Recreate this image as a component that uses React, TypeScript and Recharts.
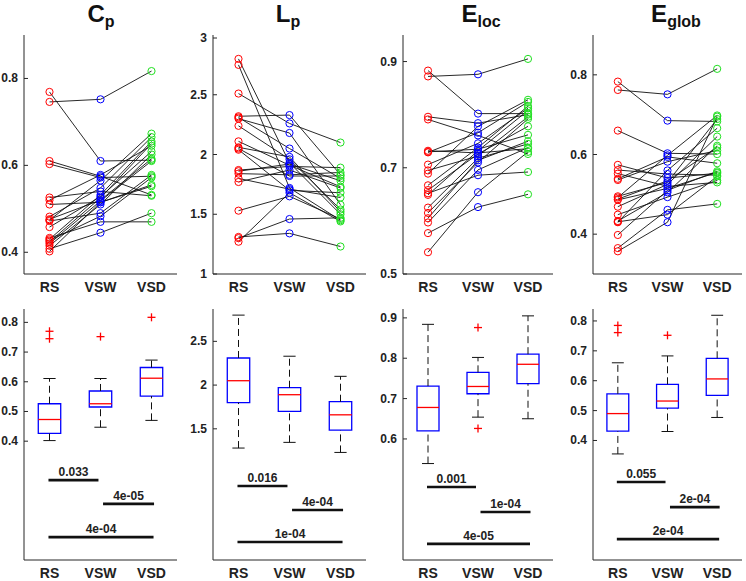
import React from "react"
import {
  ComposedChart,
  Line,
  ReferenceArea,
  ReferenceLine,
  Scatter,
  XAxis,
  YAxis,
} from "recharts"

// conditions on the x axis
const conditions = ["RS", "VSW", "VSD"]
const conditionColors = ["#ff0000", "#0000ff", "#20e020"]

// per-subject values (top row), index = subject
const cpRS = [0.769, 0.746, 0.610, 0.603, 0.526, 0.520, 0.510, 0.482, 0.476, 0.474, 0.472, 0.458, 0.433, 0.430, 0.427, 0.424, 0.420, 0.415, 0.408, 0.402]
const cpVSW = [0.610, 0.752, 0.575, 0.572, 0.540, 0.578, 0.515, 0.548, 0.520, 0.565, 0.490, 0.528, 0.470, 0.532, 0.483, 0.525, 0.518, 0.510, 0.445, 0.515]
const cpVSD = [0.612, 0.817, 0.532, 0.575, 0.530, 0.645, 0.552, 0.665, 0.615, 0.673, 0.578, 0.632, 0.470, 0.655, 0.572, 0.650, 0.610, 0.625, 0.490, 0.555]

const lpRS = [2.80, 2.75, 2.51, 2.32, 2.31, 2.30, 2.24, 2.11, 2.06, 2.05, 2.04, 1.87, 1.86, 1.84, 1.80, 1.77, 1.53, 1.31, 1.30, 1.27]
const lpVSW = [1.93, 1.72, 2.26, 2.33, 2.05, 2.18, 1.96, 1.91, 1.98, 1.82, 1.70, 1.90, 1.92, 1.83, 1.71, 1.87, 1.65, 1.34, 1.46, 1.68]
const lpVSD = [1.50, 1.45, 2.10, 1.83, 1.80, 1.58, 1.54, 1.73, 1.52, 1.82, 1.68, 1.89, 1.78, 1.85, 1.64, 1.72, 1.46, 1.23, 1.47, 1.44]

const elocRS = [0.872, 0.883, 0.796, 0.791, 0.732, 0.730, 0.729, 0.706, 0.695, 0.689, 0.667, 0.658, 0.652, 0.649, 0.625, 0.615, 0.605, 0.597, 0.577, 0.541]
const elocVSW = [0.876, 0.802, 0.784, 0.761, 0.728, 0.735, 0.766, 0.746, 0.722, 0.778, 0.738, 0.726, 0.686, 0.732, 0.718, 0.710, 0.714, 0.696, 0.626, 0.654]
const elocVSD = [0.905, 0.802, 0.800, 0.726, 0.736, 0.762, 0.824, 0.812, 0.796, 0.828, 0.816, 0.778, 0.692, 0.808, 0.745, 0.792, 0.750, 0.738, 0.650, 0.730]

const eglobRS = [0.783, 0.762, 0.660, 0.574, 0.561, 0.539, 0.536, 0.552, 0.495, 0.492, 0.488, 0.486, 0.469, 0.449, 0.433, 0.431, 0.430, 0.398, 0.365, 0.357]
const eglobVSW = [0.685, 0.751, 0.603, 0.541, 0.551, 0.594, 0.582, 0.520, 0.530, 0.598, 0.534, 0.515, 0.525, 0.493, 0.505, 0.449, 0.560, 0.510, 0.461, 0.430]
const eglobVSD = [0.683, 0.815, 0.601, 0.553, 0.548, 0.578, 0.610, 0.530, 0.689, 0.698, 0.618, 0.555, 0.645, 0.535, 0.622, 0.545, 0.666, 0.558, 0.476, 0.695]

// box plot statistics (bottom row), one value per condition
const cpLow = [0.402, 0.447, 0.470]
const cpQ1 = [0.426, 0.515, 0.552]
const cpMed = [0.473, 0.526, 0.612]
const cpQ3 = [0.526, 0.569, 0.648]
const cpHigh = [0.611, 0.611, 0.673]
const cpOutliers = [[0.745, 0.770], [0.752], [0.817]]

const lpLow = [1.28, 1.345, 1.23]
const lpQ1 = [1.80, 1.70, 1.485]
const lpMed = [2.05, 1.89, 1.66]
const lpQ3 = [2.31, 1.97, 1.81]
const lpHigh = [2.80, 2.33, 2.10]
const lpOutliers = [[], [], []]

const elocLow = [0.539, 0.654, 0.650]
const elocQ1 = [0.620, 0.712, 0.737]
const elocMed = [0.678, 0.730, 0.785]
const elocQ3 = [0.731, 0.765, 0.810]
const elocHigh = [0.884, 0.802, 0.905]
const elocOutliers = [[], [0.876, 0.626], []]

const eglobLow = [0.355, 0.430, 0.477]
const eglobQ1 = [0.431, 0.508, 0.551]
const eglobMed = [0.490, 0.532, 0.606]
const eglobQ3 = [0.556, 0.588, 0.675]
const eglobHigh = [0.660, 0.683, 0.819]
const eglobOutliers = [[0.761, 0.785], [0.752], []]

// significance bars: RS-VSW, VSW-VSD, RS-VSD
const sigFrom = [0.98, 2.05, 0.98]
const sigTo = [1.96, 3.05, 3.04]
const cpSigY = [0.269, 0.189, 0.077]
const cpSigLabels = ["0.033", "4e-05", "4e-04"]
const lpSigY = [0.846, 0.572, 0.206]
const lpSigLabels = ["0.016", "4e-04", "1e-04"]
const elocSigY = [0.481, 0.419, 0.34]
const elocSigLabels = ["0.001", "1e-04", "4e-05"]
const eglobSigY = [0.261, 0.177, 0.07]
const eglobSigLabels = ["0.055", "2e-04", "2e-04"]

// axis ticks
const cpTopTicks = [0.4, 0.6, 0.8]
const lpTopTicks = [1, 1.5, 2, 2.5, 3]
const elocTopTicks = [0.5, 0.7, 0.9]
const eglobTopTicks = [0.4, 0.6, 0.8]
const cpBoxTicks = [0.4, 0.5, 0.6, 0.7, 0.8]
const lpBoxTicks = [1.5, 2, 2.5]
const elocBoxTicks = [0.6, 0.7, 0.8, 0.9]
const eglobBoxTicks = [0.4, 0.5, 0.6, 0.7, 0.8]

const metrics = [
  {
    title: ["C", "p"], titleX: 100.5, left: 24, right: 177,
    rs: cpRS, vsw: cpVSW, vsd: cpVSD, topDomain: [0.35, 0.9], topTicks: cpTopTicks,
    boxDomain: [0, 0.845], boxTicks: cpBoxTicks,
    low: cpLow, q1: cpQ1, med: cpMed, q3: cpQ3, high: cpHigh, outliers: cpOutliers,
    sigY: cpSigY, sigLabels: cpSigLabels,
  },
  {
    title: ["L", "p"], titleX: 288, left: 213, right: 366,
    rs: lpRS, vsw: lpVSW, vsd: lpVSD, topDomain: [1, 3], topTicks: lpTopTicks,
    boxDomain: [0, 2.87], boxTicks: lpBoxTicks,
    low: lpLow, q1: lpQ1, med: lpMed, q3: lpQ3, high: lpHigh, outliers: lpOutliers,
    sigY: lpSigY, sigLabels: lpSigLabels,
  },
  {
    title: ["E", "loc"], titleX: 481, left: 403, right: 553,
    rs: elocRS, vsw: elocVSW, vsd: elocVSD, topDomain: [0.5, 0.95], topTicks: elocTopTicks,
    boxDomain: [0.3, 0.922], boxTicks: elocBoxTicks,
    low: elocLow, q1: elocQ1, med: elocMed, q3: elocQ3, high: elocHigh, outliers: elocOutliers,
    sigY: elocSigY, sigLabels: elocSigLabels,
  },
  {
    title: ["E", "glob"], titleX: 676, left: 593, right: 742,
    rs: eglobRS, vsw: eglobVSW, vsd: eglobVSD, topDomain: [0.3, 0.9], topTicks: eglobTopTicks,
    boxDomain: [0, 0.84], boxTicks: eglobBoxTicks,
    low: eglobLow, q1: eglobQ1, med: eglobMed, q3: eglobQ3, high: eglobHigh, outliers: eglobOutliers,
    sigY: eglobSigY, sigLabels: eglobSigLabels,
  },
]

const FONT = '"Liberation Sans", Arial, Helvetica, sans-serif'
const FRAME = "#262626"
const TOP_ROW = [35, 274]
const BOX_ROW = [309, 560]
const Y_AXIS_W = 34
const X_AXIS_H = 24
const M_TOP = 6
const M_RIGHT = 4
const BOX_HALF = 0.22
const CAP_HALF = 0.12

const LeftTick = (props: any) => {
  const { x, y, payload } = props
  return (
    <g>
      <line x1={x} y1={y} x2={x + 4} y2={y} stroke={FRAME} strokeWidth={1} />
      <text x={x - 6} y={y + 4} textAnchor="end" fontSize={12} fontWeight="bold" fontFamily={FONT} fill="#222">
        {payload.value}
      </text>
    </g>
  )
}

const RightTick = (props: any) => {
  const { x, y } = props
  return <line x1={x} y1={y} x2={x - 4} y2={y} stroke={FRAME} strokeWidth={1} />
}

const CategoryTick = (props: any) => {
  const { x, y, payload } = props
  return (
    <text x={x} y={y + 18} textAnchor="middle" fontSize={14} fontWeight="bold" fontFamily={FONT} fill="#222">
      {conditions[payload.value - 1]}
    </text>
  )
}

const frameAxes = (domain: number[], ticks: number[]) => [
  <XAxis
    key="xb"
    type="number"
    dataKey="x"
    domain={[0.5, 3.5]}
    ticks={[1, 2, 3]}
    allowDataOverflow
    height={X_AXIS_H}
    tickSize={0}
    tickMargin={0}
    tickLine={false}
    axisLine={{ stroke: FRAME }}
    tick={<CategoryTick />}
  />,
  <XAxis
    key="xt"
    xAxisId="t"
    orientation="top"
    type="number"
    domain={[0.5, 3.5]}
    height={0}
    tick={false}
    tickLine={false}
    axisLine={{ stroke: FRAME }}
  />,
  <YAxis
    key="yl"
    type="number"
    domain={domain}
    ticks={ticks}
    allowDataOverflow
    width={Y_AXIS_W}
    tickSize={0}
    tickMargin={0}
    tickLine={false}
    axisLine={{ stroke: FRAME }}
    tick={<LeftTick />}
  />,
  <YAxis
    key="yr"
    yAxisId="r"
    orientation="right"
    type="number"
    domain={domain}
    ticks={ticks}
    allowDataOverflow
    width={0}
    tickSize={0}
    tickMargin={0}
    tickLine={false}
    axisLine={{ stroke: FRAME }}
    tick={<RightTick />}
  />,
]

function PairedPanel({ m }: { m: (typeof metrics)[number] }) {
  const w = m.right - m.left + Y_AXIS_W + M_RIGHT
  const h = TOP_ROW[1] - TOP_ROW[0] + M_TOP + X_AXIS_H
  const groups = [m.rs, m.vsw, m.vsd]
  return (
    <div style={{ position: "absolute", left: m.left - Y_AXIS_W, top: TOP_ROW[0] - M_TOP }}>
      <ComposedChart width={w} height={h} margin={{ top: M_TOP, right: M_RIGHT, bottom: 0, left: 0 }}>
        {frameAxes(m.topDomain, m.topTicks)}
        {groups.map((vals, ci) => (
          <Scatter
            key={"c" + ci}
            data={vals.map((v) => ({ x: ci + 1, y: v }))}
            dataKey="y"
            isAnimationActive={false}
            shape={(p: any) => (
              <circle cx={p.cx} cy={p.cy} r={3.6} fill="none" stroke={conditionColors[ci]} strokeWidth={1} />
            )}
          />
        ))}
        {m.rs.map((v, i) => (
          <Line
            key={"s" + i}
            data={[
              { x: 1, y: v },
              { x: 2, y: m.vsw[i] },
              { x: 3, y: m.vsd[i] },
            ]}
            dataKey="y"
            type="linear"
            stroke="#111"
            strokeWidth={0.9}
            dot={false}
            activeDot={false}
            isAnimationActive={false}
          />
        ))}
      </ComposedChart>
    </div>
  )
}

function BoxPanel({ m }: { m: (typeof metrics)[number] }) {
  const w = m.right - m.left + Y_AXIS_W + M_RIGHT
  const h = BOX_ROW[1] - BOX_ROW[0] + M_TOP + X_AXIS_H
  const outlierData = m.outliers.flatMap((vals, ci) => vals.map((v) => ({ x: ci + 1, y: v })))
  const sigLabelData = m.sigY.map((y, k) => ({ x: (sigFrom[k] + sigTo[k]) / 2, y, label: m.sigLabels[k] }))
  return (
    <div style={{ position: "absolute", left: m.left - Y_AXIS_W, top: BOX_ROW[0] - M_TOP }}>
      <ComposedChart width={w} height={h} margin={{ top: M_TOP, right: M_RIGHT, bottom: 0, left: 0 }}>
        {frameAxes(m.boxDomain, m.boxTicks)}
        {conditions.map((_, ci) => {
          const c = ci + 1
          return [
            <ReferenceLine
              key={"wu" + ci}
              segment={[{ x: c, y: m.q3[ci] }, { x: c, y: m.high[ci] }]}
              stroke="#111"
              strokeWidth={1}
              strokeDasharray="7 4"
            />,
            <ReferenceLine
              key={"wl" + ci}
              segment={[{ x: c, y: m.low[ci] }, { x: c, y: m.q1[ci] }]}
              stroke="#111"
              strokeWidth={1}
              strokeDasharray="7 4"
            />,
            <ReferenceLine
              key={"cu" + ci}
              segment={[{ x: c - CAP_HALF, y: m.high[ci] }, { x: c + CAP_HALF, y: m.high[ci] }]}
              stroke="#111"
              strokeWidth={1}
            />,
            <ReferenceLine
              key={"cl" + ci}
              segment={[{ x: c - CAP_HALF, y: m.low[ci] }, { x: c + CAP_HALF, y: m.low[ci] }]}
              stroke="#111"
              strokeWidth={1}
            />,
            <ReferenceArea
              key={"b" + ci}
              x1={c - BOX_HALF}
              x2={c + BOX_HALF}
              y1={m.q1[ci]}
              y2={m.q3[ci]}
              fill="#ffffff"
              fillOpacity={1}
              stroke="#0000ff"
              strokeWidth={1.3}
            />,
            <ReferenceLine
              key={"m" + ci}
              segment={[{ x: c - BOX_HALF, y: m.med[ci] }, { x: c + BOX_HALF, y: m.med[ci] }]}
              stroke="#ff0000"
              strokeWidth={1.3}
            />,
          ]
        })}
        {m.sigY.map((y, k) => (
          <ReferenceLine
            key={"sig" + k}
            segment={[{ x: sigFrom[k], y }, { x: sigTo[k], y }]}
            stroke="#111"
            strokeWidth={2.6}
          />
        ))}
        <Scatter
          data={outlierData}
          dataKey="y"
          isAnimationActive={false}
          shape={(p: any) => (
            <g stroke="#ff0000" strokeWidth={1.3}>
              <line x1={p.cx - 4} y1={p.cy} x2={p.cx + 4} y2={p.cy} />
              <line x1={p.cx} y1={p.cy - 4} x2={p.cx} y2={p.cy + 4} />
            </g>
          )}
        />
        <Scatter
          data={sigLabelData}
          dataKey="y"
          isAnimationActive={false}
          shape={(p: any) => (
            <text x={p.cx} y={p.cy - 4} textAnchor="middle" fontSize={12} fontWeight="bold" fontFamily={FONT} fill="#222">
              {p.payload.label}
            </text>
          )}
        />
      </ComposedChart>
    </div>
  )
}

function Title({ m }: { m: (typeof metrics)[number] }) {
  return (
    <svg style={{ position: "absolute", left: m.titleX - 40, top: 0 }} width={80} height={34}>
      <text x={40} y={22} textAnchor="middle" fontFamily={FONT} fontWeight="bold" fill="#111">
        <tspan fontSize={24}>{m.title[0]}</tspan>
        <tspan fontSize={16} dy={5}>{m.title[1]}</tspan>
      </text>
    </svg>
  )
}

export default function App() {
  return (
    <div
      style={{
        position: "absolute",
        left: 0,
        top: 0,
        width: 746,
        height: 581,
        background: "#ffffff",
        overflow: "hidden",
        fontFamily: FONT,
      }}
    >
      {metrics.map((m, i) => (
        <React.Fragment key={i}>
          <Title m={m} />
          <PairedPanel m={m} />
          <BoxPanel m={m} />
        </React.Fragment>
      ))}
    </div>
  )
}
